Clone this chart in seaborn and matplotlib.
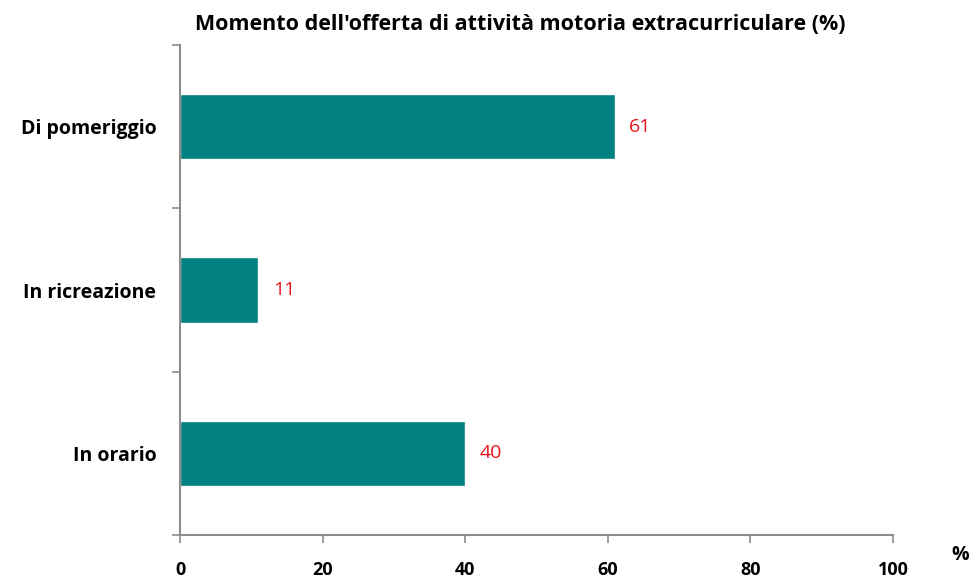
import matplotlib
matplotlib.use("Agg")
import matplotlib.pyplot as plt
import seaborn as sns
import pandas as pd
from matplotlib.ticker import FixedLocator

categories = ["Di pomeriggio", "In ricreazione", "In orario"]
values = [61, 11, 40]
xticks = [0, 20, 40, 60, 80, 100]

sns.set_style("white")
plt.rcParams['font.family'] = ['Open Sans', 'DejaVu Sans']
plt.rcParams['text.color'] = 'black'
plt.rcParams['xtick.color'] = 'black'
plt.rcParams['ytick.color'] = 'black'

df = pd.DataFrame({"cat": categories, "val": values})

fig = plt.figure(figsize=(9.72, 5.78), dpi=100)
ax = fig.add_axes([180/972, 1-535/578, (893-180)/972, (535-45)/578])

sns.barplot(data=df, y="cat", x="val", orient="h", color="#008080",
            saturation=1, width=0.4, ax=ax)

ax.set_xlim(0, 100)
ax.set_ylim(2.5, -0.5)
ax.set_xticks(xticks)
ax.set_xticklabels([str(t) for t in xticks], fontsize=13, fontweight="bold")
ax.set_yticks(range(len(categories)))
ax.set_yticklabels(categories, fontsize=14, fontweight="bold")
ax.tick_params(axis="y", which="both", left=True)
ax.tick_params(axis="x", which="both", bottom=True)
ax.tick_params(axis="y", which="major", length=0, pad=17)
ax.yaxis.set_minor_locator(FixedLocator([-0.5, 0.5, 1.5, 2.5]))
ax.tick_params(axis="y", which="minor", length=6, width=1.2, color="#8c8c8c", direction="out")
ax.tick_params(axis="x", which="major", length=6, width=1.2, color="#8c8c8c",
               labelcolor="black", direction="out", pad=13)
ax.set_xlabel("")
ax.set_ylabel("")

for s in ["top", "right"]:
    ax.spines[s].set_visible(False)
for s in ["left", "bottom"]:
    ax.spines[s].set_color("#8c8c8c")
    ax.spines[s].set_linewidth(1.5)

for i, v in enumerate(values):
    ax.text(v + 2, i, str(v), color="#e8141b", fontsize=14, va="center", ha="left")

fig.text(520/972, 1-24/578, "Momento dell'offerta di attività motoria extracurriculare (%)",
         ha="center", va="center", fontsize=15.5, fontweight="bold", color="black")
fig.text(960/972, 1-555/578, "%", ha="center", va="center", fontsize=14, fontweight="bold", color="black")

fig.savefig("out.png", dpi=100)
